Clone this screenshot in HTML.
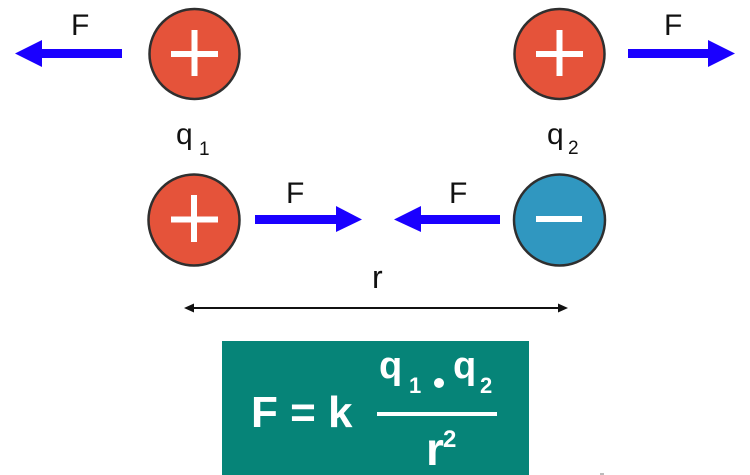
<!DOCTYPE html>
<html>
<head>
<meta charset="utf-8">
<style>
  html, body { margin: 0; padding: 0; background: #ffffff; }
  body { width: 750px; height: 475px; overflow: hidden; }
  svg { display: block; }
  text { font-family: "Liberation Sans", Arial, sans-serif; }
</style>
</head>
<body>
<svg width="750" height="475" viewBox="0 0 750 475" xmlns="http://www.w3.org/2000/svg">
  <rect width="750" height="475" fill="#ffffff"/>

  <!-- Top left charge q1 -->
  <circle cx="194.5" cy="54" r="45" fill="#E5533A" stroke="#2f2f2f" stroke-width="2.5"/>
  <rect x="171" y="51" width="47" height="6" fill="#ffffff"/>
  <rect x="191.5" y="30" width="6" height="46" fill="#ffffff"/>

  <!-- Top left arrow -->
  <rect x="41" y="49" width="81" height="9" fill="#1A00FF"/>
  <polygon points="15,53.5 42,40 42,67" fill="#1A00FF"/>
  <text x="71" y="35" font-size="30" fill="#111">F</text>

  <!-- q1 label -->
  <text x="176" y="144" font-size="30" fill="#111">q</text>
  <text x="199" y="155" font-size="19" fill="#111">1</text>

  <!-- Top right charge q2 -->
  <circle cx="559.5" cy="54" r="45" fill="#E5533A" stroke="#2f2f2f" stroke-width="2.5"/>
  <rect x="536" y="51" width="47" height="6" fill="#ffffff"/>
  <rect x="556.5" y="30" width="6" height="46" fill="#ffffff"/>

  <!-- Top right arrow -->
  <rect x="628" y="49" width="82" height="9" fill="#1A00FF"/>
  <polygon points="735,53.5 708,40 708,67" fill="#1A00FF"/>
  <text x="664" y="35" font-size="30" fill="#111">F</text>

  <!-- q2 label -->
  <text x="547" y="144" font-size="30" fill="#111">q</text>
  <text x="568" y="154" font-size="19" fill="#111">2</text>

  <!-- Bottom left positive charge -->
  <circle cx="194" cy="220" r="45.5" fill="#E5533A" stroke="#2f2f2f" stroke-width="2.5"/>
  <rect x="171" y="216.5" width="47" height="6" fill="#ffffff"/>
  <rect x="191" y="195" width="6" height="47" fill="#ffffff"/>

  <!-- Bottom arrow right -->
  <rect x="255" y="215" width="83" height="9" fill="#1A00FF"/>
  <polygon points="362,219.5 336,206 336,232" fill="#1A00FF"/>
  <text x="286" y="203" font-size="30" fill="#111">F</text>

  <!-- Bottom arrow left -->
  <rect x="419" y="215" width="81" height="9" fill="#1A00FF"/>
  <polygon points="394,219.5 421,206 421,232" fill="#1A00FF"/>
  <text x="449" y="203" font-size="30" fill="#111">F</text>

  <!-- Bottom right negative charge -->
  <circle cx="559.5" cy="220" r="45.5" fill="#3097C0" stroke="#2f2f2f" stroke-width="2.5"/>
  <rect x="536" y="216" width="46" height="6" fill="#ffffff"/>

  <!-- r label and distance arrow -->
  <text x="372" y="288" font-size="32" fill="#111">r</text>
  <line x1="190" y1="308" x2="562" y2="308" stroke="#111" stroke-width="2"/>
  <polygon points="184,308 194,303.5 194,312.5" fill="#111"/>
  <polygon points="568,308 558,303.5 558,312.5" fill="#111"/>

  <!-- Formula box -->
  <rect x="222" y="341" width="307" height="134" fill="#068478"/>
  <text x="251" y="427" font-size="44" font-weight="bold" fill="#ffffff">F = k</text>

  <!-- numerator -->
  <text x="379" y="378" font-size="38" font-weight="bold" fill="#ffffff">q</text>
  <text x="409" y="393" font-size="22" font-weight="bold" fill="#ffffff">1</text>
  <circle cx="439" cy="383" r="5" fill="#ffffff"/>
  <text x="453" y="378" font-size="38" font-weight="bold" fill="#ffffff">q</text>
  <text x="480" y="393" font-size="22" font-weight="bold" fill="#ffffff">2</text>

  <!-- fraction line -->
  <rect x="377" y="412" width="120" height="4" fill="#ffffff"/>

  <!-- denominator -->
  <text x="426" y="465" font-size="46" font-weight="bold" fill="#ffffff">r</text>
  <text x="443" y="447" font-size="24" font-weight="bold" fill="#ffffff">2</text>

  <!-- tiny mark bottom right -->
  <rect x="600" y="473" width="4" height="2" fill="#bbbbbb"/>
</svg>
</body>
</html>
